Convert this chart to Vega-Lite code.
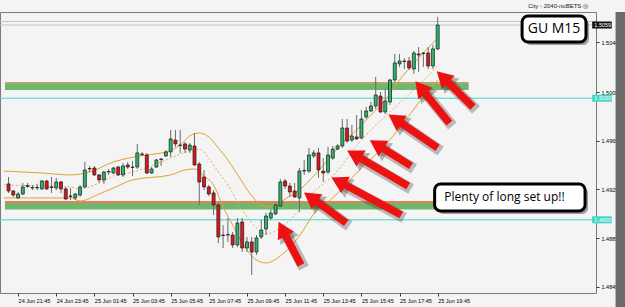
{
  "$schema": "https://vega.github.io/schema/vega-lite/v6.json",
  "width": 596,
  "height": 281,
  "autosize": {"type": "none"},
  "padding": {"left": 0, "top": 12, "right": 29, "bottom": 14},
  "background": "#f4f4f4",
  "title": {"text": "City - 2040-noBETS ◎", "anchor": "end", "frame": "group", "fontSize": 6, "fontWeight": "normal", "font": "Liberation Sans", "color": "#222", "offset": 3, "dx": -8},
  "config": {"view": {"stroke": "#7a7a7a", "strokeWidth": 1, "fill": "#f4f4f4"}},
  "datasets": {
    "candles": [
      {"i":-2,"o":1.49295,"h":1.49352,"l":1.49221,"c":1.49237},
      {"i":-1,"o":1.49237,"h":1.49245,"l":1.49188,"c":1.49204},
      {"i":0,"o":1.49180,"h":1.49229,"l":1.49171,"c":1.49212},
      {"i":1,"o":1.49212,"h":1.49303,"l":1.49204,"c":1.49270},
      {"i":2,"o":1.49274,"h":1.49303,"l":1.49262,"c":1.49282},
      {"i":3,"o":1.49262,"h":1.49286,"l":1.49245,"c":1.49266},
      {"i":4,"o":1.49262,"h":1.49295,"l":1.49245,"c":1.49266},
      {"i":5,"o":1.49254,"h":1.49328,"l":1.49245,"c":1.49319},
      {"i":6,"o":1.49319,"h":1.49328,"l":1.49245,"c":1.49254},
      {"i":7,"o":1.49270,"h":1.49352,"l":1.49221,"c":1.49266},
      {"i":8,"o":1.49262,"h":1.49344,"l":1.49245,"c":1.49311},
      {"i":9,"o":1.49311,"h":1.49319,"l":1.49221,"c":1.49254},
      {"i":10,"o":1.49254,"h":1.49270,"l":1.49163,"c":1.49171},
      {"i":11,"o":1.49196,"h":1.49262,"l":1.49163,"c":1.49192},
      {"i":12,"o":1.49180,"h":1.49221,"l":1.49163,"c":1.49212},
      {"i":13,"o":1.49204,"h":1.49286,"l":1.49188,"c":1.49270},
      {"i":14,"o":1.49270,"h":1.49476,"l":1.49262,"c":1.49410},
      {"i":15,"o":1.49418,"h":1.49443,"l":1.49393,"c":1.49422},
      {"i":16,"o":1.49426,"h":1.49443,"l":1.49360,"c":1.49369},
      {"i":17,"o":1.49369,"h":1.49377,"l":1.49303,"c":1.49328},
      {"i":18,"o":1.49328,"h":1.49401,"l":1.49295,"c":1.49393},
      {"i":19,"o":1.49393,"h":1.49418,"l":1.49369,"c":1.49397},
      {"i":20,"o":1.49385,"h":1.49434,"l":1.49377,"c":1.49426},
      {"i":21,"o":1.49434,"h":1.49443,"l":1.49360,"c":1.49369},
      {"i":22,"o":1.49369,"h":1.49467,"l":1.49352,"c":1.49443},
      {"i":23,"o":1.49451,"h":1.49476,"l":1.49418,"c":1.49434},
      {"i":24,"o":1.49430,"h":1.49484,"l":1.49360,"c":1.49434},
      {"i":25,"o":1.49434,"h":1.49624,"l":1.49418,"c":1.49550},
      {"i":26,"o":1.49541,"h":1.49558,"l":1.49525,"c":1.49537},
      {"i":27,"o":1.49533,"h":1.49550,"l":1.49377,"c":1.49385},
      {"i":28,"o":1.49385,"h":1.49434,"l":1.49377,"c":1.49418},
      {"i":29,"o":1.49434,"h":1.49500,"l":1.49426,"c":1.49492},
      {"i":30,"o":1.49496,"h":1.49508,"l":1.49443,"c":1.49500},
      {"i":31,"o":1.49525,"h":1.49574,"l":1.49517,"c":1.49558},
      {"i":32,"o":1.49558,"h":1.49739,"l":1.49517,"c":1.49665},
      {"i":33,"o":1.49656,"h":1.49739,"l":1.49599,"c":1.49624},
      {"i":34,"o":1.49615,"h":1.49739,"l":1.49550,"c":1.49611},
      {"i":35,"o":1.49624,"h":1.49640,"l":1.49550,"c":1.49582},
      {"i":36,"o":1.49574,"h":1.49632,"l":1.49550,"c":1.49615},
      {"i":37,"o":1.49607,"h":1.49714,"l":1.49443,"c":1.49451},
      {"i":38,"o":1.49459,"h":1.49476,"l":1.49122,"c":1.49311},
      {"i":39,"o":1.49352,"h":1.49410,"l":1.49245,"c":1.49270},
      {"i":40,"o":1.49270,"h":1.49286,"l":1.49196,"c":1.49212},
      {"i":41,"o":1.49221,"h":1.49245,"l":1.49040,"c":1.49122},
      {"i":42,"o":1.49122,"h":1.49138,"l":1.48809,"c":1.48859},
      {"i":43,"o":1.48875,"h":1.48957,"l":1.48768,"c":1.48871},
      {"i":44,"o":1.48875,"h":1.49015,"l":1.48818,"c":1.48879},
      {"i":45,"o":1.48875,"h":1.48900,"l":1.48768,"c":1.48793},
      {"i":46,"o":1.48793,"h":1.49015,"l":1.48777,"c":1.48974},
      {"i":47,"o":1.48982,"h":1.49015,"l":1.48735,"c":1.48768},
      {"i":48,"o":1.48768,"h":1.48859,"l":1.48735,"c":1.48818},
      {"i":49,"o":1.48818,"h":1.48859,"l":1.48546,"c":1.48735},
      {"i":50,"o":1.48735,"h":1.48875,"l":1.48711,"c":1.48851},
      {"i":51,"o":1.48859,"h":1.48999,"l":1.48842,"c":1.48916},
      {"i":52,"o":1.48925,"h":1.49056,"l":1.48875,"c":1.49031},
      {"i":53,"o":1.49015,"h":1.49089,"l":1.48999,"c":1.49056},
      {"i":54,"o":1.49048,"h":1.49138,"l":1.49040,"c":1.49122},
      {"i":55,"o":1.49114,"h":1.49336,"l":1.49105,"c":1.49311},
      {"i":56,"o":1.49319,"h":1.49336,"l":1.49254,"c":1.49278},
      {"i":57,"o":1.49278,"h":1.49303,"l":1.49188,"c":1.49229},
      {"i":58,"o":1.49237,"h":1.49303,"l":1.49180,"c":1.49188},
      {"i":59,"o":1.49180,"h":1.49426,"l":1.49064,"c":1.49401},
      {"i":60,"o":1.49401,"h":1.49492,"l":1.49369,"c":1.49406},
      {"i":61,"o":1.49401,"h":1.49591,"l":1.49385,"c":1.49533},
      {"i":62,"o":1.49525,"h":1.49574,"l":1.49508,"c":1.49550},
      {"i":63,"o":1.49550,"h":1.49591,"l":1.49344,"c":1.49410},
      {"i":64,"o":1.49401,"h":1.49508,"l":1.49311,"c":1.49385},
      {"i":65,"o":1.49393,"h":1.49599,"l":1.49377,"c":1.49533},
      {"i":66,"o":1.49508,"h":1.49607,"l":1.49492,"c":1.49582},
      {"i":67,"o":1.49582,"h":1.49624,"l":1.49574,"c":1.49607},
      {"i":68,"o":1.49607,"h":1.49829,"l":1.49591,"c":1.49755},
      {"i":69,"o":1.49755,"h":1.49829,"l":1.49632,"c":1.49648},
      {"i":70,"o":1.49656,"h":1.49780,"l":1.49640,"c":1.49689},
      {"i":71,"o":1.49681,"h":1.49862,"l":1.49656,"c":1.49665},
      {"i":72,"o":1.49673,"h":1.49903,"l":1.49665,"c":1.49829},
      {"i":73,"o":1.49846,"h":1.49928,"l":1.49829,"c":1.49895},
      {"i":74,"o":1.49895,"h":1.49969,"l":1.49887,"c":1.49936},
      {"i":75,"o":1.49936,"h":1.50175,"l":1.49911,"c":1.50027},
      {"i":76,"o":1.50018,"h":1.50051,"l":1.49879,"c":1.49887},
      {"i":77,"o":1.49887,"h":1.50076,"l":1.49870,"c":1.49977},
      {"i":78,"o":1.49969,"h":1.50158,"l":1.49944,"c":1.50150},
      {"i":79,"o":1.50150,"h":1.50364,"l":1.50134,"c":1.50290},
      {"i":80,"o":1.50282,"h":1.50364,"l":1.50257,"c":1.50306},
      {"i":81,"o":1.50306,"h":1.50331,"l":1.50240,"c":1.50302},
      {"i":82,"o":1.50306,"h":1.50339,"l":1.50232,"c":1.50249},
      {"i":83,"o":1.50240,"h":1.50389,"l":1.50199,"c":1.50372},
      {"i":84,"o":1.50364,"h":1.50421,"l":1.50216,"c":1.50356},
      {"i":85,"o":1.50372,"h":1.50380,"l":1.50257,"c":1.50368},
      {"i":86,"o":1.50372,"h":1.50421,"l":1.50240,"c":1.50265},
      {"i":87,"o":1.50265,"h":1.50438,"l":1.50240,"c":1.50405},
      {"i":88,"o":1.50405,"h":1.50668,"l":1.50397,"c":1.50602}
    ],
    "bands": [
      {"i":-3,"b":"upper","p":1.49401},{"i":5,"b":"upper","p":1.49385},{"i":11,"b":"upper","p":1.49369},{"i":15,"b":"upper","p":1.49393},{"i":20,"b":"upper","p":1.49476},{"i":27,"b":"upper","p":1.49533},{"i":31,"b":"upper","p":1.49558},{"i":34,"b":"upper","p":1.49615},{"i":36,"b":"upper","p":1.49689},{"i":38,"b":"upper","p":1.49714},{"i":40,"b":"upper","p":1.49681},{"i":42,"b":"upper","p":1.49591},{"i":44,"b":"upper","p":1.49492},{"i":47,"b":"upper","p":1.49311},{"i":49,"b":"upper","p":1.49196},{"i":52,"b":"upper","p":1.49105},{"i":54,"b":"upper","p":1.49122},{"i":56,"b":"upper","p":1.49171},{"i":59,"b":"upper","p":1.49245},{"i":62,"b":"upper","p":1.49360},{"i":65,"b":"upper","p":1.49492},{"i":68,"b":"upper","p":1.49632},{"i":71,"b":"upper","p":1.49739},{"i":74,"b":"upper","p":1.49862},{"i":77,"b":"upper","p":1.49986},{"i":80,"b":"upper","p":1.50150},{"i":84,"b":"upper","p":1.50331},{"i":88,"b":"upper","p":1.50495},
      {"i":-3,"b":"mid","p":1.49286},{"i":5,"b":"mid","p":1.49278},{"i":11,"b":"mid","p":1.49270},{"i":13,"b":"mid","p":1.49254},{"i":17,"b":"mid","p":1.49303},{"i":20,"b":"mid","p":1.49360},{"i":24,"b":"mid","p":1.49393},{"i":31,"b":"mid","p":1.49492},{"i":36,"b":"mid","p":1.49566},{"i":38,"b":"mid","p":1.49582},{"i":40,"b":"mid","p":1.49508},{"i":42,"b":"mid","p":1.49393},{"i":44,"b":"mid","p":1.49286},{"i":47,"b":"mid","p":1.49081},{"i":50,"b":"mid","p":1.48933},{"i":52,"b":"mid","p":1.48883},{"i":55,"b":"mid","p":1.48933},{"i":59,"b":"mid","p":1.49081},{"i":62,"b":"mid","p":1.49229},{"i":66,"b":"mid","p":1.49360},{"i":72,"b":"mid","p":1.49656},{"i":78,"b":"mid","p":1.49887},{"i":83,"b":"mid","p":1.50068},{"i":88,"b":"mid","p":1.50265},
      {"i":-3,"b":"lower","p":1.49180},{"i":5,"b":"lower","p":1.49180},{"i":11,"b":"lower","p":1.49180},{"i":13,"b":"lower","p":1.49155},{"i":17,"b":"lower","p":1.49212},{"i":20,"b":"lower","p":1.49262},{"i":24,"b":"lower","p":1.49328},{"i":32,"b":"lower","p":1.49369},{"i":35,"b":"lower","p":1.49410},{"i":37,"b":"lower","p":1.49418},{"i":39,"b":"lower","p":1.49360},{"i":41,"b":"lower","p":1.49286},{"i":43,"b":"lower","p":1.49105},{"i":45,"b":"lower","p":1.48957},{"i":47,"b":"lower","p":1.48809},{"i":50,"b":"lower","p":1.48670},{"i":52,"b":"lower","p":1.48645},{"i":55,"b":"lower","p":1.48703},{"i":59,"b":"lower","p":1.48867},{"i":62,"b":"lower","p":1.49048},{"i":66,"b":"lower","p":1.49180},{"i":72,"b":"lower","p":1.49426},{"i":77,"b":"lower","p":1.49615},{"i":80,"b":"lower","p":1.49755},{"i":84,"b":"lower","p":1.49961},{"i":88,"b":"lower","p":1.50150}
    ],
    "zones": [
      {"k":"up","a":-2.74,"b":94.5,"top":1.50125,"hi":1.50117,"lo":1.50068},
      {"k":"down","a":-2.74,"b":100,"top":1.49147,"hi":1.49138,"lo":1.49085}
    ],
    "levels": [
      {"k":"cyan","p":1.5000},
      {"k":"cyan","p":1.4900},
      {"k":"bid","p":1.50602},
      {"k":"ask","p":1.50631}
    ],
    "arrows": [
      {"ti":59.32,"tp":1.48628,"hi":55.40,"hp":1.48925},
      {"ti":68.80,"tp":1.48974,"hi":61.32,"hp":1.49187},
      {"ti":80.35,"tp":1.49040,"hi":67.20,"hp":1.49317},
      {"ti":81.80,"tp":1.49278,"hi":70.47,"hp":1.49537},
      {"ti":82.41,"tp":1.49443,"hi":75.20,"hp":1.49619},
      {"ti":87.98,"tp":1.49591,"hi":79.07,"hp":1.49830},
      {"ti":90.45,"tp":1.49796,"hi":84.37,"hp":1.50089},
      {"ti":95.40,"tp":1.49928,"hi":89.01,"hp":1.50176}
    ],
    "boxes": [
      {"label":"GU M15","x1":105.7,"x2":119.1,"p1":1.50676,"p2":1.50462,"tx":112.4,"tp":1.50569},
      {"label":"Plenty of long set up!!","x1":87.36,"x2":118.9,"p1":1.49295,"p2":1.49073,"tx":89.4,"tp":1.49184}
    ],
    "tags": [
      {"k":"cyan","p":1.5000,"txt":"1.5000"},
      {"k":"cyan","p":1.4900,"txt":"1.4900"},
      {"k":"bid","p":1.50602,"txt":"1.5059"}
    ]
  },
  "layer": [
    {
      "data": {"name": "zones"},
      "mark": {"type": "rect", "color": "#5fb35f", "opacity": 0.92},
      "encoding": {
        "x": {"field": "a", "type": "quantitative", "title": null,
          "scale": {"domain": [-2.742, 120.15], "nice": false, "zero": false},
          "axis": {"orient": "bottom", "values": [0,8,16,24,32,40,48,56,64,72,80,88],
            "labelExpr": "timeFormat(datetime(2010,5,24,21,45+datum.value*15),'%d %b %H:%M')",
            "labelAlign": "left", "labelPadding": 2, "labelFontSize": 5.5, "labelFont": "Liberation Sans",
            "labelColor": "#000", "tickSize": 3, "tickColor": "#333", "domain": false, "grid": false,
            "labelOverlap": false, "labelFlush": false}},
        "x2": {"field": "b"},
        "y": {"field": "hi", "type": "quantitative", "title": null,
          "scale": {"domain": [1.48398, 1.50709], "nice": false, "zero": false},
          "axis": {"orient": "right", "values": [1.4845,1.4865,1.4885,1.4905,1.4925,1.4945,1.4965,1.4985,1.5005,1.5025,1.5046],
            "format": ".4f", "labelAlign": "left", "labelPadding": 2, "labelFontSize": 5.5, "labelFont": "Liberation Sans",
            "labelColor": "#000", "tickSize": 3, "tickColor": "#333", "domain": false, "grid": false,
            "labelOverlap": false, "labelFlush": false}},
        "y2": {"field": "lo"}
      }
    },
    {
      "data": {"name": "zones"},
      "mark": {"type": "rule", "strokeWidth": 1.6},
      "encoding": {
        "x": {"field": "a", "type": "quantitative", "title": null},
        "x2": {"field": "b"},
        "y": {"field": "top", "type": "quantitative", "title": null},
        "color": {"condition": {"test": "datum.k === 'up'", "value": "#a48a3e"}, "value": "#f0502a"}
      }
    },
    {
      "data": {"name": "levels"},
      "mark": {"type": "rule", "strokeWidth": 1},
      "encoding": {
        "y": {"field": "p", "type": "quantitative", "title": null},
        "color": {"condition": {"test": "datum.k === 'cyan'", "value": "#3fd8c8"}, "value": "#c4c4c4"}
      }
    },
    {
      "data": {"name": "bands"},
      "transform": [{"filter": "datum.b !== 'mid'"}],
      "mark": {"type": "line", "color": "#e2a032", "strokeWidth": 1, "interpolate": "monotone", "clip": true},
      "encoding": {
        "x": {"field": "i", "type": "quantitative", "title": null},
        "y": {"field": "p", "type": "quantitative", "title": null},
        "detail": {"field": "b"}
      }
    },
    {
      "data": {"name": "bands"},
      "transform": [{"filter": "datum.b === 'mid'"}],
      "mark": {"type": "line", "color": "#e6aa55", "strokeWidth": 1, "strokeDash": [2, 2], "interpolate": "monotone", "clip": true},
      "encoding": {
        "x": {"field": "i", "type": "quantitative", "title": null},
        "y": {"field": "p", "type": "quantitative", "title": null}
      }
    },
    {
      "data": {"name": "candles"},
      "mark": {"type": "rule", "color": "#6a6a6a", "strokeWidth": 1},
      "encoding": {
        "x": {"field": "i", "type": "quantitative", "title": null},
        "y": {"field": "l", "type": "quantitative", "title": null},
        "y2": {"field": "h"}
      }
    },
    {
      "data": {"name": "candles"},
      "mark": {"type": "bar", "size": 3, "stroke": "#1a1a1a", "strokeWidth": 0.7},
      "encoding": {
        "x": {"field": "i", "type": "quantitative", "title": null},
        "y": {"field": "o", "type": "quantitative", "title": null},
        "y2": {"field": "c"},
        "color": {"condition": {"test": "datum.c > datum.o", "value": "#2fb46e"}, "value": "#e3141b"}
      }
    },
    {
      "data": {"name": "arrows"},
      "mark": {"type": "rule", "color": "#333", "opacity": 0.3, "strokeWidth": 11, "xOffset": 3, "yOffset": 3, "x2Offset": 3, "y2Offset": 3},
      "encoding": {
        "x": {"field": "ti", "type": "quantitative", "title": null},
        "y": {"field": "tp", "type": "quantitative", "title": null},
        "x2": {"field": "hi"},
        "y2": {"field": "hp"}
      }
    },
    {
      "data": {"name": "arrows"},
      "transform": [{"calculate": "atan2((datum.hi-datum.ti)*4.85,(datum.hp-datum.tp)*12159)*180/PI", "as": "ang"}],
      "mark": {"type": "point", "shape": "triangle-up", "filled": true, "color": "#333", "opacity": 0.35, "size": 440, "xOffset": 3, "yOffset": 3},
      "encoding": {
        "x": {"field": "hi", "type": "quantitative", "title": null},
        "y": {"field": "hp", "type": "quantitative", "title": null},
        "angle": {"field": "ang", "type": "quantitative", "scale": null}
      }
    },
    {
      "data": {"name": "arrows"},
      "mark": {"type": "rule", "color": "#ee1111", "strokeWidth": 7.5},
      "encoding": {
        "x": {"field": "ti", "type": "quantitative", "title": null},
        "y": {"field": "tp", "type": "quantitative", "title": null},
        "x2": {"field": "hi"},
        "y2": {"field": "hp"}
      }
    },
    {
      "data": {"name": "arrows"},
      "transform": [{"calculate": "atan2((datum.hi-datum.ti)*4.85,(datum.hp-datum.tp)*12159)*180/PI", "as": "ang"}],
      "mark": {"type": "point", "shape": "triangle-up", "filled": true, "color": "#ee1111", "opacity": 1, "size": 340},
      "encoding": {
        "x": {"field": "hi", "type": "quantitative", "title": null},
        "y": {"field": "hp", "type": "quantitative", "title": null},
        "angle": {"field": "ang", "type": "quantitative", "scale": null}
      }
    },
    {
      "data": {"name": "boxes"},
      "mark": {"type": "rect", "color": "#555", "opacity": 0.55, "cornerRadius": 6, "xOffset": 3, "x2Offset": 3, "yOffset": 3, "y2Offset": 3},
      "encoding": {
        "x": {"field": "x1", "type": "quantitative", "title": null},
        "x2": {"field": "x2"},
        "y": {"field": "p1", "type": "quantitative", "title": null},
        "y2": {"field": "p2"}
      }
    },
    {
      "data": {"name": "boxes"},
      "mark": {"type": "rect", "fill": "#ffffff", "stroke": "#000", "strokeWidth": 3, "cornerRadius": 6},
      "encoding": {
        "x": {"field": "x1", "type": "quantitative", "title": null},
        "x2": {"field": "x2"},
        "y": {"field": "p1", "type": "quantitative", "title": null},
        "y2": {"field": "p2"}
      }
    },
    {
      "data": {"name": "boxes"},
      "transform": [{"filter": "datum.label === 'GU M15'"}],
      "mark": {"type": "text", "font": "Open Sans", "fontSize": 14, "align": "center", "baseline": "middle", "color": "#000"},
      "encoding": {
        "x": {"field": "tx", "type": "quantitative", "title": null},
        "y": {"field": "tp", "type": "quantitative", "title": null},
        "text": {"field": "label"}
      }
    },
    {
      "data": {"name": "boxes"},
      "transform": [{"filter": "datum.label !== 'GU M15'"}],
      "mark": {"type": "text", "font": "Open Sans", "fontSize": 12, "align": "left", "baseline": "middle", "color": "#000"},
      "encoding": {
        "x": {"field": "tx", "type": "quantitative", "title": null},
        "y": {"field": "tp", "type": "quantitative", "title": null},
        "text": {"field": "label"}
      }
    },
    {
      "data": {"name": "tags"},
      "mark": {"type": "rect", "yOffset": -3.5, "y2Offset": 3.5},
      "encoding": {
        "x": {"datum": 120.4, "type": "quantitative"},
        "x2": {"datum": 124.5},
        "y": {"field": "p", "type": "quantitative", "title": null},
        "y2": {"field": "p"},
        "color": {"condition": {"test": "datum.k === 'bid'", "value": "#111"}, "value": "#3fd8c8"}
      }
    },
    {
      "data": {"name": "tags"},
      "mark": {"type": "text", "align": "left", "baseline": "middle", "font": "Liberation Sans", "fontSize": 5.5, "color": "#fff"},
      "encoding": {
        "x": {"datum": 120.85, "type": "quantitative"},
        "y": {"field": "p", "type": "quantitative", "title": null},
        "text": {"field": "txt"}
      }
    },
    {
      "data": {"values": [{"s": 1}]},
      "mark": {"type": "rect", "color": "#6b6b6b"},
      "encoding": {
        "x": {"datum": 125.3, "type": "quantitative"},
        "x2": {"datum": 131},
        "y": {"datum": 1.50709, "type": "quantitative"},
        "y2": {"datum": 1.47}
      }
    }
  ]
}
